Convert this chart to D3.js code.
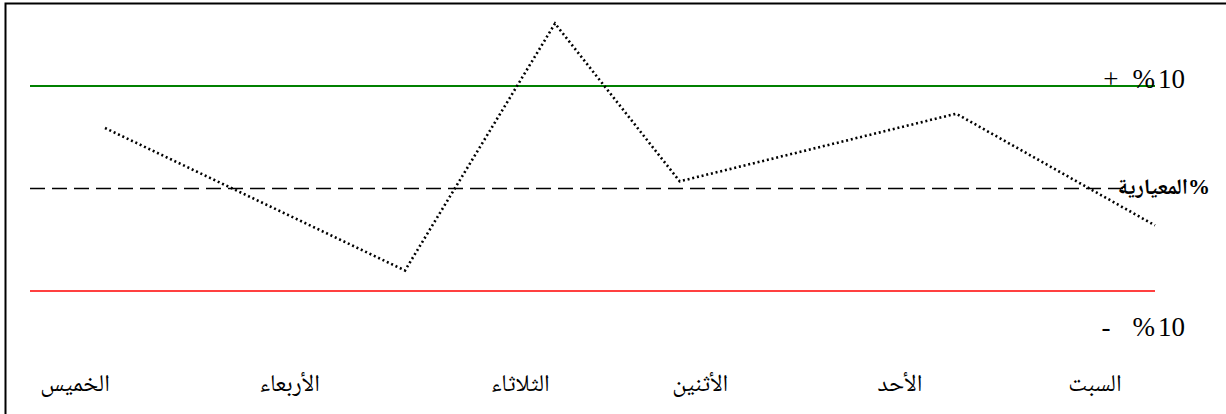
<!DOCTYPE html>
<html>
<head>
<meta charset="utf-8">
<script src="https://cdn.jsdelivr.net/npm/d3@7"></script>
<style>
  body { margin: 0; background: #fff; }
  svg { display: block; font-family: "Liberation Serif", "Noto Naskh Arabic", "DejaVu Sans", serif; }
</style>
</head>
<body>
<div id="chart"></div>
<script>
// days along the bottom, position in chart units (0 .. 12)
const days = ['الخميس', 'الأربعاء', 'الثلاثاء', 'الأثنين', 'الأحد', 'السبت']
const dayPos = [0.48, 2.77, 5.23, 7.15, 9.28, 11.36]

// dotted series: position (chart units) and deviation in %
const pointPos = [0.8, 4.0, 5.6, 6.93, 9.88, 12]
const pointVal = [5.9, -8.0, 16.1, 0.7, 7.3, -3.6]

// reference levels, labels written as visual pieces left to right
const upper = 10
const lower = -10
const upperLabel = ['+', '%', '10']
const lowerLabel = ['-', '%', '10']
const normLabel = '%المعيارية'

const dimensions = { width: 1226, height: 414 }

const svg = d3.select('#chart')
  .append('svg')
  .attr('width', dimensions.width)
  .attr('height', dimensions.height)

// frame: top and left edges only
svg.append('path')
  .attr('d', `M5.5,${dimensions.height} V3.5 H${dimensions.width}`)
  .attr('fill', 'none')
  .attr('stroke', '#000')
  .attr('stroke-width', 2)

const xScale = d3.scaleLinear().domain([0, 12]).range([30, 1155])
const yScale = d3.scaleLinear().domain([-10, 10]).range([291, 86])

// green +10% line
svg.append('line')
  .attr('x1', xScale(0)).attr('x2', xScale(12))
  .attr('y1', yScale(upper)).attr('y2', yScale(upper))
  .attr('stroke', '#008000').attr('stroke-width', 2)

// red -10% line
svg.append('line')
  .attr('x1', xScale(0)).attr('x2', xScale(12))
  .attr('y1', yScale(lower)).attr('y2', yScale(lower))
  .attr('stroke', '#ff0000').attr('stroke-width', 1.5)

// dashed norm line
svg.append('line')
  .attr('x1', xScale(0)).attr('x2', xScale(11.7))
  .attr('y1', yScale(0)).attr('y2', yScale(0))
  .attr('stroke', '#000').attr('stroke-width', 1.5)
  .attr('stroke-dasharray', '15,7')

// dotted series line
const line = d3.line()
  .x(d => xScale(d[0]))
  .y(d => yScale(d[1]))

svg.append('path')
  .datum(d3.zip(pointPos, pointVal))
  .attr('d', line)
  .attr('fill', 'none')
  .attr('stroke', '#000')
  .attr('stroke-width', 2.6)
  .attr('stroke-dasharray', '2,2.8')

// level labels: pieces placed right to left so bidi can't reorder them
function pieceLabel (pieces, right, y, gaps) {
  let x = right
  for (let i = pieces.length - 1; i >= 0; i--) {
    const t = svg.append('text')
      .attr('x', x).attr('y', y)
      .attr('text-anchor', 'end')
      .attr('font-size', 27)
      .text(pieces[i])
    x -= t.node().getComputedTextLength() + gaps[i]
  }
}
pieceLabel(upperLabel, 1185, yScale(upper) + 2, [0, 14, 3])
pieceLabel(lowerLabel, 1185, 336, [0, 22, 3])

svg.append('text')
  .attr('x', 1210).attr('y', yScale(0) + 5)
  .attr('text-anchor', 'start')
  .attr('font-size', 22)
  .attr('font-weight', 'bold')
  .style('direction', 'rtl')
  .text(normLabel)

// day labels
svg.selectAll('.day')
  .data(days)
  .join('text')
  .attr('class', 'day')
  .attr('x', (d, i) => xScale(dayPos[i]))
  .attr('y', 391)
  .attr('text-anchor', 'middle')
  .attr('font-size', 24)
  .text(d => d)
</script>
</body>
</html>
